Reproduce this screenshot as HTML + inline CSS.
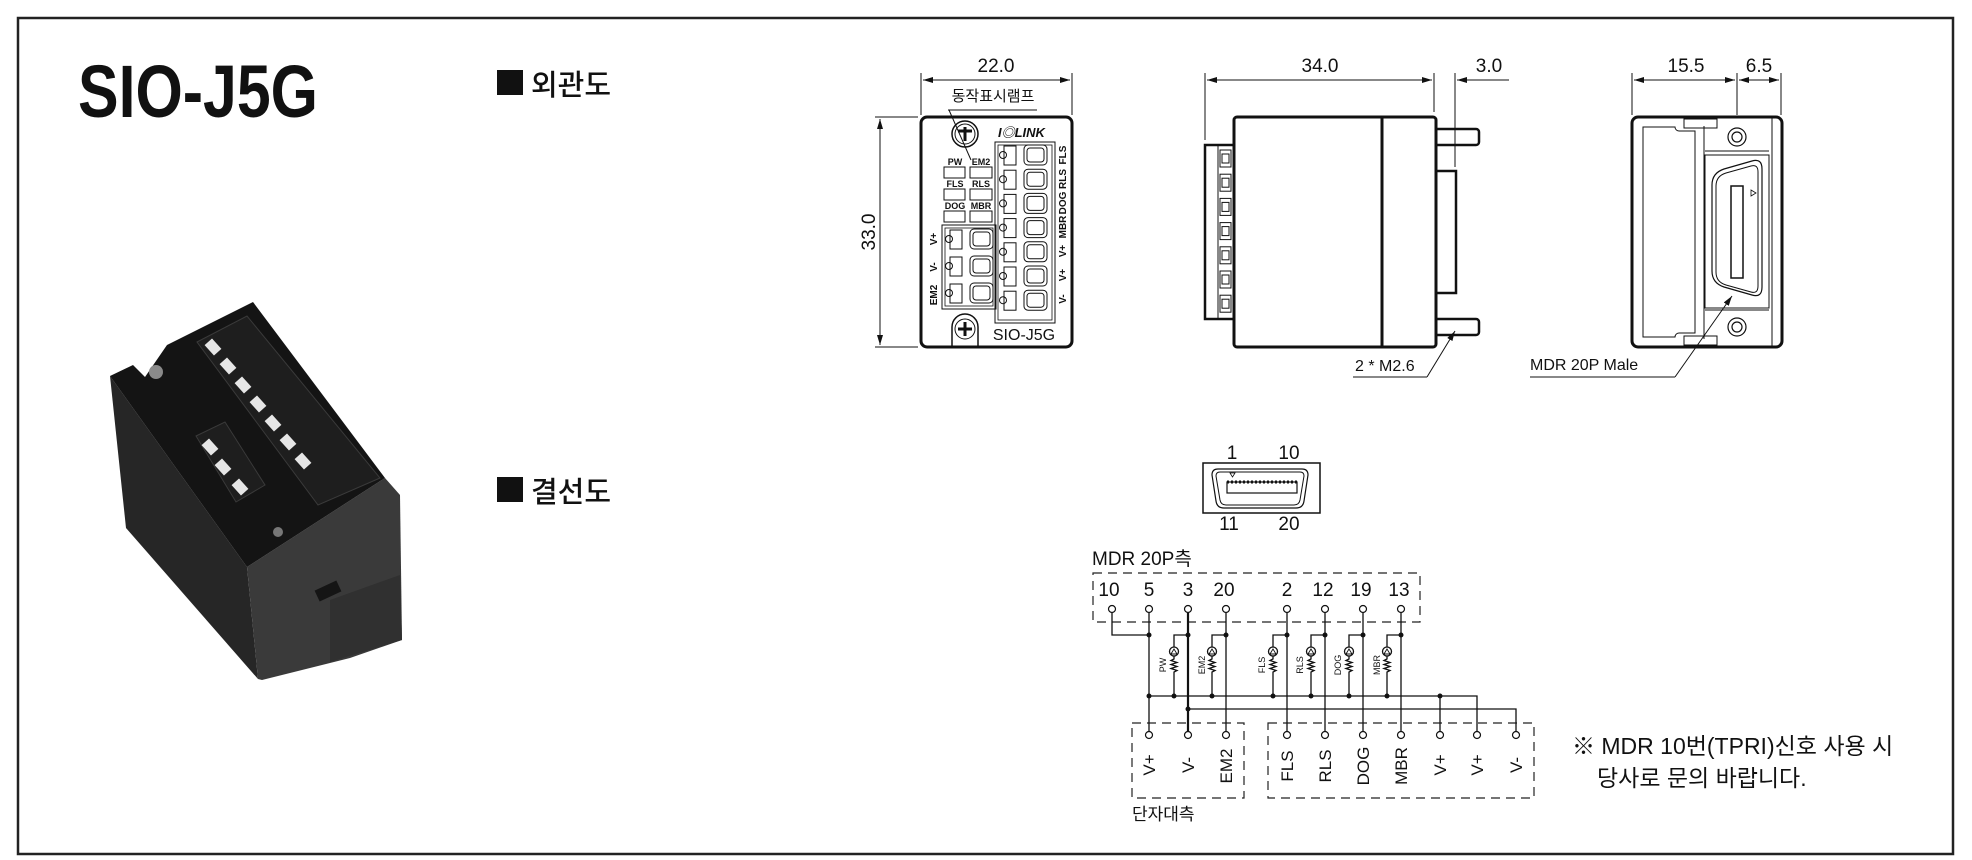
<!DOCTYPE html>
<html><head><meta charset="utf-8"><style>
html,body{margin:0;padding:0;background:#fff;}
svg{display:block}
text{font-family:"Liberation Sans","Noto Sans CJK KR",sans-serif;fill:#111}
</style></head><body>
<svg width="1972" height="860" viewBox="0 0 1972 860" xmlns="http://www.w3.org/2000/svg">
<defs>
<marker id="ar" viewBox="0 0 10 6" refX="10" refY="3" markerWidth="10" markerHeight="6" orient="auto-start-reverse" markerUnits="userSpaceOnUse"><path d="M0,0 L10,3 L0,6z" fill="#111"/></marker>
</defs>
<rect x="18" y="18" width="1935" height="836" fill="none" stroke="#222" stroke-width="2.5"/>

<!-- Title -->
<text x="78" y="117" font-size="74" font-weight="bold" font-family="Liberation Sans Narrow, Liberation Sans, sans-serif" textLength="240" lengthAdjust="spacingAndGlyphs">SIO-J5G</text>
<rect x="497" y="70" width="26" height="25" fill="#111"/>
<text x="531" y="95" font-size="29" font-weight="500">외관도</text>
<rect x="497" y="477" width="26" height="25" fill="#111"/>
<text x="531" y="502" font-size="29" font-weight="500">결선도</text>

<!-- Photo approximation -->
<g>
<!-- left face -->
<polygon points="110,376 247,567 258,679 126,528" fill="#262626"/>
<!-- front face -->
<polygon points="247,567 385,478 400,495 402,640 350,658 262,680 258,679" fill="#3a3a3a"/>
<polygon points="330,600 400,575 402,640 330,662" fill="#303030"/>
<rect x="316" y="585" width="24" height="12" fill="#151515" transform="rotate(-25 328 591)"/>
<!-- top face -->
<polygon points="110,376 133,365 145,377 167,345 253,302 385,478 247,567" fill="#141414"/>
<!-- terminal blocks -->
<polygon points="197,342 247,316 380,478 318,505" fill="#1e1e1e" stroke="#3a3a3a" stroke-width="1"/>
<polygon points="196,436 225,422 265,485 236,502" fill="#1e1e1e" stroke="#3a3a3a" stroke-width="1"/>
<g fill="#e6e6e6">
<rect x="206" y="342" width="14" height="10" transform="rotate(48 213 347)"/>
<rect x="221" y="361" width="14" height="10" transform="rotate(48 228 366)"/>
<rect x="236" y="380" width="14" height="10" transform="rotate(48 243 385)"/>
<rect x="251" y="399" width="14" height="10" transform="rotate(48 258 404)"/>
<rect x="266" y="418" width="14" height="10" transform="rotate(48 273 423)"/>
<rect x="281" y="437" width="14" height="10" transform="rotate(48 288 442)"/>
<rect x="296" y="456" width="14" height="10" transform="rotate(48 303 461)"/>
<rect x="203" y="442" width="14" height="10" transform="rotate(48 210 447)"/>
<rect x="216" y="462" width="14" height="10" transform="rotate(48 223 467)"/>
<rect x="233" y="482" width="14" height="10" transform="rotate(48 240 487)"/>
</g>
<circle cx="156" cy="372" r="7" fill="#8a8a8a"/>
<circle cx="278" cy="532" r="5" fill="#777"/>
</g>

<!-- Front view -->
<g stroke="#111" fill="none">
<line x1="921" y1="73" x2="921" y2="115" stroke-width="1"/>
<line x1="1072" y1="73" x2="1072" y2="115" stroke-width="1"/>
<line x1="923" y1="80" x2="1070" y2="80" stroke-width="1" marker-start="url(#ar)" marker-end="url(#ar)"/>
<line x1="875" y1="117" x2="918" y2="117" stroke-width="1"/>
<line x1="875" y1="347" x2="918" y2="347" stroke-width="1"/>
<line x1="880" y1="119" x2="880" y2="345" stroke-width="1" marker-start="url(#ar)" marker-end="url(#ar)"/>
<rect x="921" y="117" width="151" height="230" rx="6" stroke-width="3"/>
<line x1="948" y1="110" x2="1037" y2="110" stroke-width="1"/>
<line x1="949" y1="110" x2="971" y2="160" stroke-width="1"/>
<circle cx="965" cy="134" r="13" stroke-width="1.5"/>
<circle cx="965" cy="134" r="10" stroke-width="1"/>
<path d="M958,131 h14 M965,127 v14" stroke-width="3"/>
<path d="M952,347 v-20 a13,13 0 0 1 26,0 v20" stroke-width="1.5"/>
<circle cx="965" cy="329" r="10" stroke-width="1"/>
<path d="M958,329 h14 M965,322 v14" stroke-width="3"/>
<g stroke-width="1">
<rect x="944" y="167" width="21" height="11"/><rect x="970" y="167" width="22" height="11"/>
<rect x="944" y="189" width="21" height="11"/><rect x="970" y="189" width="22" height="11"/>
<rect x="944" y="211" width="21" height="11"/><rect x="970" y="211" width="22" height="11"/>
</g>
<rect x="995" y="142" width="60" height="181" stroke-width="1"/>
<rect x="998" y="145" width="54" height="175" stroke-width="0.8"/>
<rect x="942" y="225" width="54" height="84" stroke-width="1"/>
<rect x="945" y="228" width="48" height="78" stroke-width="0.8"/>
</g>
<g stroke="#111" fill="none" stroke-width="1">
<g id="r0"><rect x="1004" y="146" width="12" height="19"/><circle cx="1003" cy="155" r="3.5"/><rect x="1024" y="145" width="23" height="20" rx="4"/><rect x="1027" y="148" width="17" height="14" rx="3"/></g>
<use href="#r0" y="24.2"/><use href="#r0" y="48.4"/><use href="#r0" y="72.6"/><use href="#r0" y="96.8"/><use href="#r0" y="121"/><use href="#r0" y="145.2"/>
<g id="l0"><rect x="950" y="230" width="12" height="19"/><circle cx="949" cy="239" r="3.5"/><rect x="970" y="229" width="23" height="20" rx="4"/><rect x="973" y="232" width="17" height="14" rx="3"/></g>
<use href="#l0" y="27"/><use href="#l0" y="54"/>
</g>
<text x="996" y="72" font-size="19" text-anchor="middle">22.0</text>
<text x="993" y="101" font-size="15" text-anchor="middle">동작표시램프</text>
<text transform="translate(875,232) rotate(-90)" font-size="19" text-anchor="middle">33.0</text>
<g font-size="9" font-weight="bold" text-anchor="middle">
<text x="955" y="165">PW</text><text x="981" y="165">EM2</text>
<text x="955" y="187">FLS</text><text x="981" y="187">RLS</text>
<text x="955" y="209">DOG</text><text x="981" y="209">MBR</text>
</g>
<text x="998" y="137" font-size="13" font-weight="bold" font-style="italic">I◎LINK</text>
<g font-size="10" font-weight="bold" text-anchor="middle">
<text transform="translate(1066,155) rotate(-90)">FLS</text>
<text transform="translate(1066,179) rotate(-90)">RLS</text>
<text transform="translate(1066,203) rotate(-90)">DOG</text>
<text transform="translate(1066,227) rotate(-90)">MBR</text>
<text transform="translate(1066,251) rotate(-90)">V+</text>
<text transform="translate(1066,275) rotate(-90)">V+</text>
<text transform="translate(1066,299) rotate(-90)">V-</text>
<text transform="translate(937,239) rotate(-90)">V+</text>
<text transform="translate(937,267) rotate(-90)">V-</text>
<text transform="translate(937,295) rotate(-90)">EM2</text>
</g>
<text x="1024" y="340" font-size="16" text-anchor="middle">SIO-J5G</text>

<!-- Side view -->
<g stroke="#111" fill="none">
<line x1="1205" y1="73" x2="1205" y2="140" stroke-width="1"/>
<line x1="1434" y1="73" x2="1434" y2="112" stroke-width="1"/>
<line x1="1455" y1="73" x2="1455" y2="167" stroke-width="1"/>
<line x1="1207" y1="80" x2="1432" y2="80" stroke-width="1" marker-start="url(#ar)" marker-end="url(#ar)"/>
<line x1="1457" y1="80" x2="1509" y2="80" stroke-width="1" marker-start="url(#ar)"/>
<rect x="1234" y="117" width="202" height="230" rx="3" stroke-width="3"/>
<line x1="1382" y1="117" x2="1382" y2="347" stroke-width="3"/>
<rect x="1205" y="145" width="29" height="174" stroke-width="2.5"/>
<line x1="1218" y1="145" x2="1218" y2="319" stroke-width="1"/>
<path d="M1436,129 h40 a3,3 0 0 1 3,3 v10 a3,3 0 0 1 -3,3 h-40" stroke-width="2.5"/>
<path d="M1436,319 h40 a3,3 0 0 1 3,3 v10 a3,3 0 0 1 -3,3 h-40" stroke-width="2.5"/>
<rect x="1436" y="171" width="20" height="122" stroke-width="2.5"/>
<line x1="1353" y1="377" x2="1427" y2="377" stroke-width="1"/>
<line x1="1427" y1="377" x2="1455" y2="331" stroke-width="1" marker-end="url(#ar)"/>
</g>
<g stroke="#111" fill="none" stroke-width="1">
<g id="s0"><rect x="1220" y="150" width="11" height="17"/><rect x="1222" y="154" width="7" height="9"/></g>
<use href="#s0" y="24.2"/><use href="#s0" y="48.4"/><use href="#s0" y="72.6"/><use href="#s0" y="96.8"/><use href="#s0" y="121"/><use href="#s0" y="145.2"/>
</g>
<text x="1320" y="72" font-size="19" text-anchor="middle">34.0</text>
<text x="1489" y="72" font-size="19" text-anchor="middle">3.0</text>
<text x="1355" y="371" font-size="16">2 * M2.6</text>

<!-- Rear view -->
<g stroke="#111" fill="none">
<line x1="1632" y1="73" x2="1632" y2="115" stroke-width="1"/>
<line x1="1737" y1="73" x2="1737" y2="115" stroke-width="1"/>
<line x1="1781" y1="73" x2="1781" y2="115" stroke-width="1"/>
<line x1="1634" y1="80" x2="1735" y2="80" stroke-width="1" marker-start="url(#ar)" marker-end="url(#ar)"/>
<line x1="1739" y1="80" x2="1779" y2="80" stroke-width="1" marker-start="url(#ar)" marker-end="url(#ar)"/>
<rect x="1632" y="117" width="150" height="230" rx="6" stroke-width="3"/>
<path d="M1643,127 h32 a4,4 0 0 0 4,4 h16 v202 h-16 a4,4 0 0 0 -4,4 h-32 z" stroke-width="1"/>
<line x1="1704" y1="126" x2="1704" y2="339" stroke-width="1"/>
<line x1="1772" y1="117" x2="1772" y2="347" stroke-width="1"/>
<rect x="1684" y="119" width="33" height="9" stroke-width="1"/>
<rect x="1684" y="336" width="33" height="9" stroke-width="1"/>
<circle cx="1737" cy="137" r="9" stroke-width="1.2"/><circle cx="1737" cy="137" r="5" stroke-width="1.2"/>
<circle cx="1737" cy="327" r="9" stroke-width="1.2"/><circle cx="1737" cy="327" r="5" stroke-width="1.2"/>
<rect x="1705" y="155" width="64" height="153" stroke-width="1"/>
<line x1="1705" y1="151" x2="1769" y2="151" stroke-width="1"/>
<line x1="1705" y1="310" x2="1769" y2="310" stroke-width="1"/>
<path d="M1712,185 q0,-12 12,-16 l28,-8 q10,-3 10,8 v118 q0,11 -10,8 l-28,-8 q-12,-4 -12,-16 z" stroke-width="1.2"/>
<path d="M1716,186 q0,-10 10,-13 l25,-7 q7,-2 7,6 v114 q0,8 -7,6 l-25,-7 q-10,-3 -10,-13 z" stroke-width="1"/>
<rect x="1731" y="186" width="12" height="92" stroke-width="1.5"/>
<line x1="1530" y1="377" x2="1675" y2="377" stroke-width="1"/>
<line x1="1675" y1="377" x2="1732" y2="296" stroke-width="1" marker-end="url(#ar)"/>
</g>
<path d="M1756,193 l-5,-3 v6z" fill="none" stroke="#111" stroke-width="0.8"/>
<text x="1686" y="72" font-size="19" text-anchor="middle">15.5</text>
<text x="1759" y="72" font-size="19" text-anchor="middle">6.5</text>
<text x="1530" y="370" font-size="16">MDR 20P Male</text>

<!-- Connector diagram -->
<g stroke="#111" fill="none">
<rect x="1203" y="463" width="117" height="50" stroke-width="1.5"/>
<path d="M1222,469 h80 q6,0 6,6 l-4,26 q-1,7 -8,7 h-72 q-7,0 -8,-7 l-4,-26 q0,-6 6,-6 z" stroke-width="1.2"/>
<path d="M1224,472 h76 q4,0 4,4 l-4,24 q-1,5 -6,5 h-68 q-5,0 -6,-5 l-4,-24 q0,-4 4,-4 z" stroke-width="1"/>
<rect x="1227" y="482" width="70" height="11" stroke-width="1.2"/>
<path d="M1227,482 h70" stroke-dasharray="2 2" stroke-width="3"/>
</g>
<path d="M1230,473 h5 l-2.5,4z" fill="none" stroke="#111" stroke-width="0.8"/>
<g font-size="19" text-anchor="middle">
<text x="1232" y="459">1</text><text x="1289" y="459">10</text>
<text x="1229" y="530">11</text><text x="1289" y="530">20</text>
</g>
<text x="1092" y="565" font-size="19">MDR 20P측</text>

<!-- wiring -->
<g stroke="#222" fill="none" stroke-width="1.2" stroke-dasharray="9 6">
<rect x="1093" y="573" width="327" height="49"/>
<rect x="1132" y="723" width="112" height="75"/>
<rect x="1268" y="723" width="266" height="75"/>
</g>
<g font-size="19" text-anchor="middle">
<text x="1109" y="596">10</text><text x="1149" y="596">5</text><text x="1188" y="596">3</text><text x="1224" y="596">20</text>
<text x="1287" y="596">2</text><text x="1323" y="596">12</text><text x="1361" y="596">19</text><text x="1399" y="596">13</text>
</g>
<g stroke="#111" fill="none" stroke-width="1.3">
<path d="M1112,613 V635 H1149"/>
<path d="M1149,613 V731"/>
<path d="M1188,613 V731" stroke-width="2.2"/>
<path d="M1226,613 V731"/>
<path d="M1287,613 V731"/><path d="M1325,613 V731"/><path d="M1363,613 V731"/><path d="M1401,613 V731"/>
<path d="M1149,696 H1477 V731 M1440,696 V731"/>
<path d="M1188,709 H1516 V731"/>
</g>
<g id="led" stroke="#111" fill="none" stroke-width="1.3">
<path d="M1188,635 H1174 V647 M1174,656 V659 l-3,1.5 l6,2 l-6,2 l6,2 l-6,2 l6,2 l-3,1.5 V696"/>
<circle cx="1174" cy="651.5" r="4.5"/>
<path d="M1171,654 l3,-5 l3,5z" stroke-width="0.9"/>
</g>
<use href="#led" x="38"/>
<use href="#led" x="99"/>
<use href="#led" x="137"/>
<use href="#led" x="175"/>
<use href="#led" x="213"/>
<g fill="#111">
<circle cx="1149" cy="635" r="2.5"/><circle cx="1188" cy="635" r="2.5"/><circle cx="1226" cy="635" r="2.5"/>
<circle cx="1287" cy="635" r="2.5"/><circle cx="1325" cy="635" r="2.5"/><circle cx="1363" cy="635" r="2.5"/><circle cx="1401" cy="635" r="2.5"/>
<circle cx="1149" cy="696" r="2.5"/><circle cx="1174" cy="696" r="2.5"/><circle cx="1212" cy="696" r="2.5"/>
<circle cx="1273" cy="696" r="2.5"/><circle cx="1311" cy="696" r="2.5"/><circle cx="1349" cy="696" r="2.5"/><circle cx="1387" cy="696" r="2.5"/><circle cx="1440" cy="696" r="2.5"/>
<circle cx="1188" cy="709" r="2.5"/>
</g>
<g fill="#fff" stroke="#111" stroke-width="1.2">
<circle cx="1112" cy="609" r="3.5"/><circle cx="1149" cy="609" r="3.5"/><circle cx="1188" cy="609" r="3.5"/><circle cx="1226" cy="609" r="3.5"/>
<circle cx="1287" cy="609" r="3.5"/><circle cx="1325" cy="609" r="3.5"/><circle cx="1363" cy="609" r="3.5"/><circle cx="1401" cy="609" r="3.5"/>
<circle cx="1149" cy="735" r="3.5"/><circle cx="1188" cy="735" r="3.5"/><circle cx="1226" cy="735" r="3.5"/>
<circle cx="1287" cy="735" r="3.5"/><circle cx="1325" cy="735" r="3.5"/><circle cx="1363" cy="735" r="3.5"/><circle cx="1401" cy="735" r="3.5"/>
<circle cx="1440" cy="735" r="3.5"/><circle cx="1477" cy="735" r="3.5"/><circle cx="1516" cy="735" r="3.5"/>
</g>
<g font-size="9" text-anchor="middle">
<text transform="translate(1166,665) rotate(-90)">PW</text>
<text transform="translate(1205,665) rotate(-90)">EM2</text>
<text transform="translate(1265,665) rotate(-90)">FLS</text>
<text transform="translate(1303,665) rotate(-90)">RLS</text>
<text transform="translate(1341,665) rotate(-90)">DOG</text>
<text transform="translate(1380,665) rotate(-90)">MBR</text>
</g>
<g font-size="17" text-anchor="middle">
<text transform="translate(1155,765) rotate(-90)">V+</text>
<text transform="translate(1194,765) rotate(-90)">V-</text>
<text transform="translate(1232,766) rotate(-90)">EM2</text>
<text transform="translate(1293,766) rotate(-90)">FLS</text>
<text transform="translate(1331,766) rotate(-90)">RLS</text>
<text transform="translate(1369,766) rotate(-90)">DOG</text>
<text transform="translate(1407,766) rotate(-90)">MBR</text>
<text transform="translate(1446,765) rotate(-90)">V+</text>
<text transform="translate(1483,765) rotate(-90)">V+</text>
<text transform="translate(1522,765) rotate(-90)">V-</text>
</g>
<text x="1132" y="820" font-size="17">단자대측</text>

<text x="1572" y="754" font-size="23">※ MDR 10번(TPRI)신호 사용 시</text>
<text x="1597" y="786" font-size="23">당사로 문의 바랍니다.</text>
</svg>
</body></html>
